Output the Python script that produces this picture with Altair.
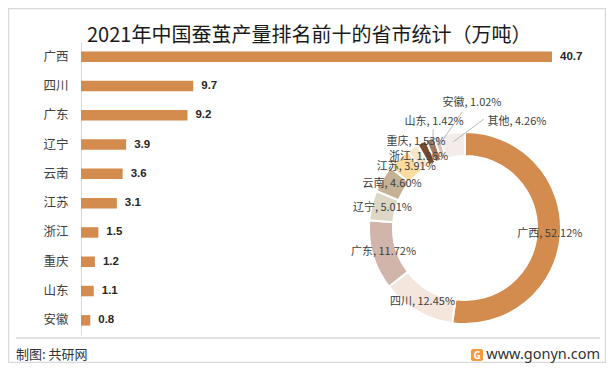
import math
import altair as alt
import pandas as pd

# ---------------- data ----------------
provinces = ["广西", "四川", "广东", "辽宁", "云南", "江苏", "浙江", "重庆", "山东", "安徽"]
output = [40.7, 9.7, 9.2, 3.9, 3.6, 3.1, 1.5, 1.2, 1.1, 0.8]

share_names = ["广西", "四川", "广东", "辽宁", "云南", "江苏", "浙江", "重庆", "山东", "安徽", "其他"]
share_pct = [52.12, 12.45, 11.72, 5.01, 4.60, 3.91, 1.96, 1.53, 1.42, 1.02, 4.26]

# ---------------- styles / layout ----------------
share_colors = ["#D48B4E", "#F4E6DC", "#D1B4AA", "#DDD8C5", "#C5B193", "#FADBA0",
                "#F5E6C9", "#7B4A2C", "#A3735C", "#D9C0BA", "#F3ECEA"]
BAR_COLOR = "#D48B4E"
FONT = "Noto Sans CJK SC"
W, H = 471, 293
CX, CY = 384, 186          # donut centre in plot pixels
R_OUT, R_IN = 96, 72
LABEL_R = 85
label_override = {"重庆": (330.3, 99), "山东": (343.7, 110), "安徽": (3.2, 125), "其他": (26.1, 118)}
leader_end = {"山东": (-1, 7), "安徽": (-10, 9), "其他": (-33, -3)}

# ---------------- tables ----------------
bar_df = pd.DataFrame({"prov": provinces, "val": output})

pie_df = pd.DataFrame({"name": share_names, "pct": share_pct})
pie_df["idx"] = range(len(pie_df))
cum = pie_df["pct"].cumsum()
pie_df["mid"] = (cum - pie_df["pct"] / 2) * 3.6
pie_df["lab_angle"] = [label_override.get(n, (m, LABEL_R))[0] for n, m in zip(pie_df["name"], pie_df["mid"])]
pie_df["lab_r"] = [label_override.get(n, (m, LABEL_R))[1] for n, m in zip(pie_df["name"], pie_df["mid"])]
pie_df["label"] = [f"{n}, {p:.2f}%" for n, p in zip(share_names, share_pct)]

lead_df = pie_df[pie_df["name"].isin(list(leader_end))].copy()
lead_df["ldx"] = [leader_end[n][0] for n in lead_df["name"]]
lead_df["ldy"] = [leader_end[n][1] for n in lead_df["name"]]

one = pd.DataFrame({"k": [0]})

# ---------------- bar part ----------------
y_enc = alt.Y("prov:N", sort=provinces,
              scale=alt.Scale(paddingInner=0, paddingOuter=0),
              axis=alt.Axis(title=None, ticks=False, domainColor="#d9d9d9", domainWidth=1,
                            labelFontSize=12.5, labelColor="#404040", labelPadding=13,
                            labelFont=FONT, grid=False))
x_enc = alt.X("val:Q", scale=alt.Scale(domain=[0, 40.7], nice=False, zero=True), axis=None)

bars = alt.Chart(bar_df).mark_bar(size=10.5, color=BAR_COLOR).encode(x=x_enc, y=y_enc)
vals = alt.Chart(bar_df).mark_text(align="left", baseline="middle", dx=8, fontWeight="bold",
                                   fontSize=11.5, color="#262626", font="Liberation Sans").encode(
    x=x_enc, y=y_enc, text=alt.Text("val:Q", format=".1f"))

# ---------------- donut part ----------------
arcs = alt.Chart(pie_df).mark_arc(radius=R_OUT, radius2=R_IN, stroke="white", strokeWidth=2).encode(
    theta=alt.Theta("pct:Q", stack=True),
    order=alt.Order("idx:Q"),
    color=alt.Color("name:N", scale=alt.Scale(domain=share_names, range=share_colors), legend=None),
    x=alt.value(CX), y=alt.value(CY))

rules = alt.Chart(lead_df).transform_calculate(
    x1=f"{CX} + 87*sin(datum.mid*PI/180)",
    y1=f"{CY} - 87*cos(datum.mid*PI/180)",
    x2=f"{CX} + datum.lab_r*sin(datum.lab_angle*PI/180) + datum.ldx",
    y2=f"{CY} - datum.lab_r*cos(datum.lab_angle*PI/180) + datum.ldy",
).mark_rule(color="#A6A6A6", strokeWidth=0.8).encode(
    x=alt.X("x1:Q", scale=None), x2="x2:Q", y=alt.Y("y1:Q", scale=None), y2="y2:Q")

labels = alt.Chart(pie_df).mark_text(fontSize=11, color="#404040", font=FONT,
                                     align="center", baseline="middle").encode(
    theta=alt.Theta("lab_angle:Q", stack=None,
                    scale=alt.Scale(domain=[0, 360], range=[0, 2 * math.pi])),
    radius=alt.Radius("lab_r:Q", scale=None),
    text="label:N", x=alt.value(CX), y=alt.value(CY))

# ---------------- decorations ----------------
frame = alt.Chart(one).mark_rect(fillOpacity=0, stroke="#d9d9d9", strokeWidth=1.5).encode(
    x=alt.value(-72.5), x2=alt.value(524.5), y=alt.value(-33.5), y2=alt.value(320.5))
foot_line = alt.Chart(one).mark_rule(color="#e3e3e3", strokeWidth=2).encode(
    x=alt.value(-65), x2=alt.value(519), y=alt.value(296))
foot_left = alt.Chart(one).mark_text(align="left", baseline="middle", fontSize=13, color="#333333",
                                     font=FONT).encode(
    x=alt.value(-65), y=alt.value(313), text=alt.value("制图: 共研网"))
foot_right = alt.Chart(one).mark_text(align="right", baseline="middle", fontSize=14.5, color="#333333",
                                      font="Noto Sans").encode(
    x=alt.value(519), y=alt.value(313), text=alt.value("www.gonyn.com"))
logo = alt.Chart(one).mark_rect(color="#F39A3C", cornerRadius=2).encode(
    x=alt.value(390), x2=alt.value(402), y=alt.value(307), y2=alt.value(319))
logo_g = alt.Chart(one).mark_text(align="center", baseline="middle", fontSize=10, fontWeight="bold",
                                  color="white", font="Noto Sans").encode(
    x=alt.value(396), y=alt.value(313.5), text=alt.value("G"))

chart = alt.layer(
    frame, foot_line, foot_left, logo, logo_g, foot_right,
    bars, vals, arcs, rules, labels
).resolve_scale(
    theta="independent"
).properties(
    width=W, height=H,
    autosize=alt.AutoSizeParams(type="none"),
    padding={"left": 73, "top": 34, "right": 54, "bottom": 28},
    title=alt.TitleParams("2021年中国蚕茧产量排名前十的省市统计（万吨）", font=FONT, fontSize=20,
                          fontWeight="normal", color="#1a1a1a", anchor="start", frame="group",
                          dx=6, offset=2, dy=40),
    background="white",
).configure_view(stroke=None)

chart.save("out.html", embed_options={"renderer": "svg", "actions": False})
